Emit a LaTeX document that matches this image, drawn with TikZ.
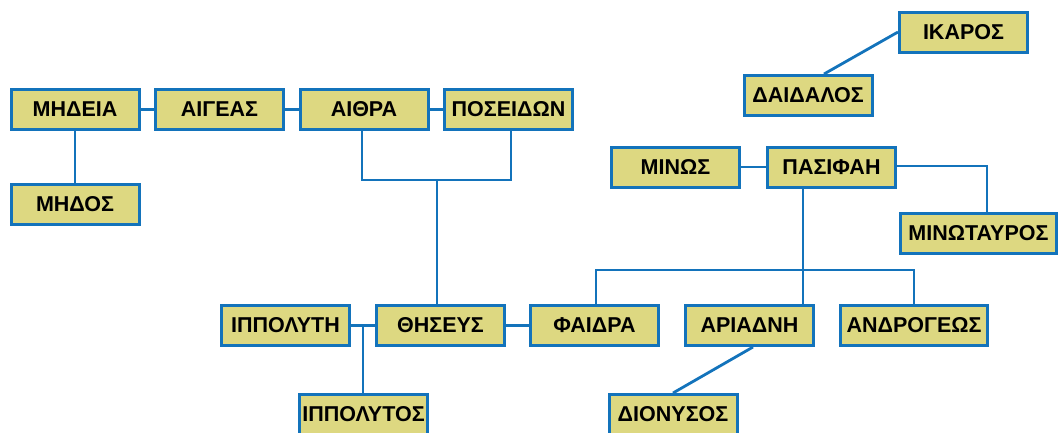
\documentclass[tikz,border=0pt]{standalone}
\usepackage{fontspec}
\setmainfont{Liberation Sans}
\definecolor{boxfill}{HTML}{DDD881}
\definecolor{boxline}{HTML}{1373BB}
\begin{document}
\begin{tikzpicture}[x=1pt,y=-1pt,
  person/.style={draw=boxline,fill=boxfill,line width=3pt,minimum width=128pt,minimum height=40pt,inner sep=0pt,font=\bfseries\fontsize{21.5}{21.5}\selectfont},
  link/.style={draw=boxline,line width=2.8pt}]
\useasboundingbox (0,0) rectangle (1061,432);
% nodes
\node[person] (med) at (75,109.5) {ΜΗΔΕΙΑ};
\node[person] (aig) at (219.5,109.5) {ΑΙΓΕΑΣ};
\node[person] (ait) at (364,109.5) {ΑΙΘΡΑ};
\node[person] (pos) at (508.5,109.5) {ΠΟΣΕΙΔΩΝ};
\node[person] (mdo) at (75,204) {ΜΗΔΟΣ};
\node[person] (ika) at (963.5,32) {ΙΚΑΡΟΣ};
\node[person] (dai) at (808,95.5) {ΔΑΙΔΑΛΟΣ};
\node[person] (min) at (675.5,167) {ΜΙΝΩΣ};
\node[person] (pas) at (831.5,167) {ΠΑΣΙΦΑΗ};
\node[person,minimum width=156pt] (mnt) at (978.5,233.5) {ΜΙΝΩΤΑΥΡΟΣ};
\node[person] (ipp) at (285.5,325.5) {ΙΠΠΟΛΥΤΗ};
\node[person] (the) at (440.5,325.5) {ΘΗΣΕΥΣ};
\node[person] (fai) at (594.5,325.5) {ΦΑΙΔΡΑ};
\node[person] (ari) at (749.5,325.5) {ΑΡΙΑΔΝΗ};
\node[person,minimum width=147pt] (and) at (914,325.5) {ΑΝΔΡΟΓΕΩΣ};
\node[person] (ipt) at (363.5,414.5) {ΙΠΠΟΛΥΤΟΣ};
\node[person] (dio) at (673,414.5) {ΔΙΟΝΥΣΟΣ};
% helper coordinates
\coordinate (c1) at (362,180);
\coordinate (c2) at (511,180);
\coordinate (c3) at (437,180);
\coordinate (c4) at (596,270);
\coordinate (c5) at (803,270);
\coordinate (c6) at (914,270);
\coordinate (c7) at (987,166);
\coordinate (c8) at (363,327);
\coordinate (d1) at (824,74);
\coordinate (d2) at (753,347);
% connectors
\draw[link] (med) -- (aig);
\draw[link] (aig) -- (ait);
\draw[link] (ait) -- (pos);
\draw[link] (med) -- (mdo);
\draw[link] (ait.south -| c1) -- (c1) -- (c2) -- (pos.south -| c2);
\draw[link] (c3) -- (the.north -| c3);
\draw[link] (ipp) -- (the);
\draw[link] (c8) -- (ipt.north -| c8);
\draw[link] (the) -- (fai);
\draw[link] (pas.south -| c5) -- (ari.north -| c5);
\draw[link] (fai.north -| c4) -- (c4) -- (c6) -- (and.north -| c6);
\draw[link] (min) -- (pas);
\draw[link] (pas.east |- c7) -- (c7) -- (mnt.north -| c7);
\draw[link] (d1) -- (ika.west);
\draw[link] (d2) -- (dio.north);
\end{tikzpicture}
\end{document}
